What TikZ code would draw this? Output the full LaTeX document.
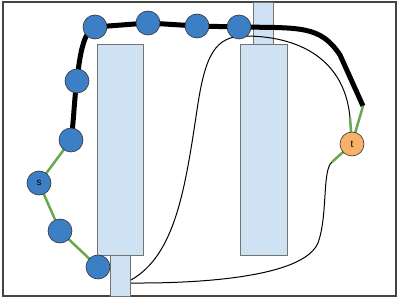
\documentclass[tikz,border=0pt]{standalone}
\usepackage{fontspec}
\setmainfont{Liberation Sans}
\definecolor{nodeblue}{RGB}{61,127,196}
\definecolor{rectfill}{RGB}{207,226,243}
\definecolor{tfill}{RGB}{246,178,107}
\definecolor{edgegreen}{RGB}{106,168,79}
\definecolor{framegray}{RGB}{68,68,68}
\tikzset{
  pt/.style={circle,draw=black!80,line width=0.6pt,fill=nodeblue,minimum size=24pt,inner sep=0pt,font=\fontsize{10}{11}\selectfont},
  tnode/.style={pt,fill=tfill},
  block/.style={draw=black!55,line width=0.8pt,fill=rectfill},
  thickpath/.style={line width=5pt,black},
  thinpath/.style={line width=1pt,black},
  greenedge/.style={line width=2.5pt,edgegreen},
}
\begin{document}
\begin{tikzpicture}[x=1pt,y=-1pt]
\useasboundingbox (0,0) rectangle (399,299);
\draw[framegray,line width=1.3pt] (3,2) rectangle (396,296);
% blocks
\draw[block] (97,44) rectangle (143,255);
\draw[block] (110,255) rectangle (130,296);
\draw[block] (253,2) rectangle (273,44);
\draw[block] (240,44) rectangle (287,255);
% coordinates
\coordinate (te) at (363,106);
\coordinate (ue) at (350,118);
\coordinate (ve) at (332,162);
\coordinate (a1) at (131,280);
\coordinate (a2) at (131,283);
% node positions
\path (95,27) coordinate (p1) (148,23) coordinate (p2) (197,26) coordinate (p3) (239,27) coordinate (p4)
      (77,81) coordinate (p5) (71,140) coordinate (p6) (39,183) coordinate (ps) (60,231) coordinate (p7)
      (98,267) coordinate (p8) (352,144) coordinate (pt);
% thin curves
\draw[thinpath] (a1) .. controls (175,255) and (185,190) .. (197,110)
   .. controls (205,55) and (215,36) .. (245,36)
   .. controls (300,36) and (345,60) .. (ue);
\draw[thinpath] (a2) .. controls (150,283) and (300,285) .. (318,243)
   .. controls (328,215) and (322,170) .. (ve);
% thick path
\draw[thickpath] (p6) .. controls (74,120) and (74,100) .. (p5)
   .. controls (80,50) and (85,30) .. (p1) -- (p2) -- (p3) -- (p4)
   .. controls (300,28) and (320,25) .. (340,55) -- (te);
% green edges
\draw[greenedge] (p6) -- (ps) -- (p7) -- (p8);
\draw[greenedge] (te) -- (pt);
\draw[greenedge] (ue) -- (pt);
\draw[greenedge] (ve) -- (pt);
% nodes
\node[pt] (n1) at (p1) {};
\node[pt] (n2) at (p2) {};
\node[pt] (n3) at (p3) {};
\node[pt] (n4) at (p4) {};
\node[pt] (n5) at (p5) {};
\node[pt] (n6) at (p6) {};
\node[pt] (s) at (ps) {s};
\node[pt] (n7) at (p7) {};
\node[pt] (n8) at (p8) {};
\node[tnode] (t) at (pt) {t};
\end{tikzpicture}
\end{document}
